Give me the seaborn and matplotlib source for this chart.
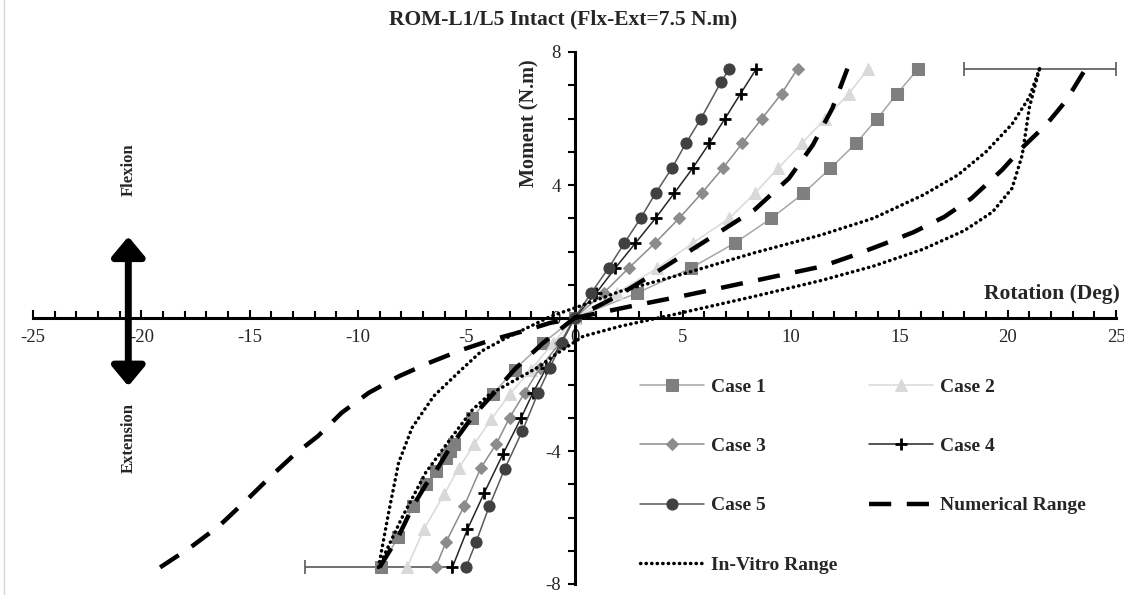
import numpy as np
import pandas as pd
import seaborn as sns
import matplotlib.pyplot as plt
from matplotlib.lines import Line2D

# ---- data (rotation in deg, moment in N.m) ----
moment_pos = [0.75, 1.5, 2.25, 3.0, 3.75, 4.5, 5.25, 6.0, 6.75, 7.5]

case1_rot = [-8.95, -8.15, -7.45, -6.85, -6.4, -5.95, -5.75, -5.56, -4.75, -3.78, -2.77, -1.45, 0,
             2.89, 5.37, 7.39, 9.09, 10.57, 11.81, 12.99, 13.98, 14.9, 15.87]
case1_mom = [-7.5, -6.6, -5.65, -5.0, -4.6, -4.2, -4.0, -3.8, -3.0, -2.3, -1.55, -0.75, 0] + moment_pos

case2_rot = [-7.73, -6.95, -6.02, -5.33, -4.63, -3.85, -3.0, -2.0, -0.99, 0,
             1.96, 3.82, 5.45, 7.15, 8.32, 9.4, 10.49, 11.58, 12.67, 13.57]
case2_mom = [-7.5, -6.35, -5.3, -4.5, -3.8, -3.05, -2.3, -1.55, -0.75, 0] + moment_pos

case3_rot = [-6.41, -5.94, -5.09, -4.32, -3.62, -3.0, -2.3, -1.6, -0.67, 0,
             1.34, 2.5, 3.71, 4.83, 5.87, 6.84, 7.74, 8.66, 9.56, 10.3]
case3_mom = [-7.5, -6.75, -5.65, -4.5, -3.8, -3.0, -2.25, -1.5, -0.75, 0] + moment_pos

case4_rot = [-5.64, -4.94, -4.16, -3.31, -2.46, -1.92, -1.3, -0.6, 0,
             1.0, 1.88, 2.81, 3.74, 4.6, 5.45, 6.22, 6.95, 7.67, 8.4]
case4_mom = [-7.5, -6.35, -5.25, -4.1, -3.0, -2.25, -1.5, -0.75, 0] + moment_pos

case5_rot = [-5.01, -4.55, -3.93, -3.23, -2.41, -1.68, -1.14, -0.6, 0,
             0.77, 1.57, 2.3, 3.05, 3.74, 4.49, 5.14, 5.84, 6.77, 7.15]
case5_mom = [-7.5, -6.75, -5.65, -4.55, -3.4, -2.25, -1.5, -0.75, 0,
             0.75, 1.5, 2.25, 3.0, 3.75, 4.5, 5.25, 6.0, 7.1, 7.5]

num_stiff_rot = [-9.0, -8.15, -7.45, -6.85, -6.4, -5.7, -4.75, -3.78, -2.77, -1.45, 0,
                 1.96, 3.98, 6.15, 8.32, 9.9, 11.0, 11.9, 12.6]
num_stiff_mom = [-7.5, -6.6, -5.65, -5.0, -4.6, -3.85, -3.0, -2.3, -1.55, -0.75, 0,
                 0.65, 1.46, 2.36, 3.26, 4.2, 5.2, 6.3, 7.5]

num_flex_rot = [-19.13, -17.73, -16.4, -15.1, -14.0, -12.92, -11.84, -10.75, -9.5, -8.1, -6.72,
                -5.17, -3.78, -2.38, -1.14, 0, 2.58, 4.9, 7.08, 9.25, 11.42, 12.83, 14.25,
                15.65, 17.07, 18.33, 19.75, 20.67, 21.8, 22.7, 23.6]
num_flex_mom = [-7.5, -6.9, -6.25, -5.45, -4.75, -4.1, -3.55, -2.85, -2.25, -1.75, -1.35,
                -0.95, -0.65, -0.4, -0.15, 0, 0.35, 0.65, 0.95, 1.25, 1.55, 1.87, 2.22,
                2.58, 3.04, 3.6, 4.46, 5.12, 5.83, 6.54, 7.5]

vitro_a_rot = [-9.05, -8.58, -8.12, -7.5, -6.5, -5.3, -4.3, -3.3, -2.2, -1.1, 0,
               2.1, 5.2, 8.3, 11.4, 13.8, 16.1, 17.7, 19.0, 20.2, 21.0, 21.47]
vitro_a_mom = [-7.5, -5.85, -4.35, -3.3, -2.35, -1.6, -1.0, -0.65, -0.3, 0.05, 0.3,
               0.8, 1.36, 1.96, 2.5, 3.0, 3.7, 4.3, 5.0, 5.83, 6.64, 7.5]

vitro_b_rot = [-9.05, -8.0, -6.87, -5.63, -4.7, -3.93, -1.6, -1.0, 0.4,
               2.1, 4.9, 8.3, 11.4, 13.8, 16.1, 18.0, 19.3, 20.2, 20.67, 21.0, 21.47]
vitro_b_mom = [-7.5, -6.05, -4.65, -3.55, -2.75, -2.3, -1.45, -1.15, -0.55,
               -0.25, 0.15, 0.65, 1.13, 1.56, 2.07, 2.63, 3.19, 3.9, 4.9, 6.33, 7.5]

err_center_rot = [21.5, -9.05]
err_center_mom = [7.5, -7.5]
err_half_width = [3.5, 3.4]

x_ticks = [-25, -20, -15, -10, -5, 0, 5, 10, 15, 20, 25]
y_ticks = [-8, -4, 0, 4, 8]

# ---- style ----
sns.set_style("white")
plt.rcParams['font.family'] = ['Liberation Serif', 'DejaVu Serif']
plt.rcParams['axes.unicode_minus'] = False

fig = plt.figure(figsize=(11.24, 5.95), dpi=100)
ax = fig.add_axes([33 / 1124, 11 / 595, 1083 / 1124, 532 / 595])

cases = [
    ("Case 1", case1_rot, case1_mom, dict(color="#a6a6a6", marker="s", ms=8, mfc="#7f7f7f", mec="#7f7f7f")),
    ("Case 2", case2_rot, case2_mom, dict(color="#d9d9d9", marker="^", ms=8.5, mfc="#d9d9d9", mec="#d9d9d9")),
    ("Case 3", case3_rot, case3_mom, dict(color="#8c8c8c", marker="D", ms=6.5, mfc="#8c8c8c", mec="#8c8c8c")),
    ("Case 4", case4_rot, case4_mom, dict(color="#262626", marker="+", ms=8, mfc="black", mec="black", mew=2)),
    ("Case 5", case5_rot, case5_mom, dict(color="#595959", marker="o", ms=8, mfc="#404040", mec="#404040")),
]

ax.errorbar(err_center_rot, err_center_mom, xerr=err_half_width, fmt="none",
            ecolor="#595959", elinewidth=1.2, capsize=5, capthick=1.2, zorder=1)

for name, rx, my, st in cases:
    sns.lineplot(x=rx, y=my, sort=False, estimator=None, lw=1.1, label=name, ax=ax, zorder=3, **st)

sns.lineplot(x=num_stiff_rot, y=num_stiff_mom, sort=False, estimator=None, color="black", lw=3.2,
             linestyle=(0, (5, 3.5)), label="Numerical Range", ax=ax, zorder=4)
sns.lineplot(x=num_flex_rot, y=num_flex_mom, sort=False, estimator=None, color="black", lw=3.2,
             linestyle=(0, (5, 3.5)), ax=ax, zorder=4)
for rx, my, lab in [(vitro_a_rot, vitro_a_mom, "In-Vitro Range"), (vitro_b_rot, vitro_b_mom, None)]:
    sns.lineplot(x=rx, y=my, sort=False, estimator=None, color="black", lw=2.5,
                 linestyle=(0, (0.1, 1.5)), dash_capstyle="round", label=lab, ax=ax, zorder=4)

# ---- axes through origin ----
ax.set_xlim(-25, 25)
ax.set_ylim(-8, 8)
for side in ["top", "right"]:
    ax.spines[side].set_visible(False)
ax.spines["left"].set_position(("data", 0))
ax.spines["bottom"].set_position(("data", 0))
for side in ["left", "bottom"]:
    ax.spines[side].set_linewidth(2.2)
    ax.spines[side].set_color("black")

ax.set_xticks(x_ticks)
ax.set_xticks(np.arange(-25, 26, 1), minor=True)
ax.set_yticks(y_ticks)
ax.set_yticks(np.arange(-8, 9, 1), minor=True)
ax.set_xticklabels([str(v) for v in x_ticks])
ax.set_yticklabels([str(v) for v in y_ticks])
ax.tick_params(axis="x", which="both", direction="in", width=1.5, labelsize=13.5, pad=8,
               bottom=True, colors="black")
ax.tick_params(axis="x", which="major", length=6)
ax.tick_params(axis="x", which="minor", length=5)
ax.tick_params(axis="y", which="both", direction="out", width=1.5, length=5, labelsize=13.5, pad=5,
               left=True, colors="black")
ax.tick_params(labelcolor="#262626")

ax.set_xlabel("")
ax.set_ylabel("")
ax.text(25.2, 0.72, "Rotation (Deg)", ha="right", va="center", fontsize=15.5, fontweight="bold")
ax.text(-2.1, 5.85, "Moment (N.m)", ha="center", va="center", rotation=90, fontsize=14.5, fontweight="bold")
fig.text(0.501, 0.968, "ROM-L1/L5 Intact (Flx-Ext=7.5 N.m)", ha="center", va="center",
         fontsize=15.5, fontweight="bold")

# flexion / extension arrow
ax.annotate("", xy=(-20.6, 2.45), xytext=(-20.6, -2.05),
            arrowprops=dict(arrowstyle="<|-|>,head_length=0.6,head_width=0.5", color="black",
                            lw=5, shrinkA=0, shrinkB=0, mutation_scale=20))
ax.text(-20.6, 4.45, "Flexion", rotation=90, ha="center", va="center", fontsize=12, fontweight="bold")
ax.text(-20.6, -3.6, "Extension", rotation=90, ha="center", va="center", fontsize=12, fontweight="bold")

# legend, filled row by row
handles, labels = ax.get_legend_handles_labels()
order = ["Case 1", "Case 3", "Case 5", "In-Vitro Range", "Case 2", "Case 4", "Numerical Range"]
hmap = dict(zip(labels, handles))
ax.legend([hmap[k] for k in order], order, ncol=2, frameon=False, loc="upper left",
          bbox_to_anchor=(640 / 1124, 1 - 378 / 595), bbox_transform=fig.transFigure,
          borderpad=0, borderaxespad=0, handlelength=3.3, handletextpad=0.36,
          labelspacing=2.15, columnspacing=1.6, numpoints=1,
          prop=dict(family="Liberation Serif", weight="bold", size=14))

fig.add_artist(Line2D([4 / 1124, 4 / 1124], [0, 1], color="#d4d4d4", lw=1))

fig.savefig("out.png", dpi=100)
